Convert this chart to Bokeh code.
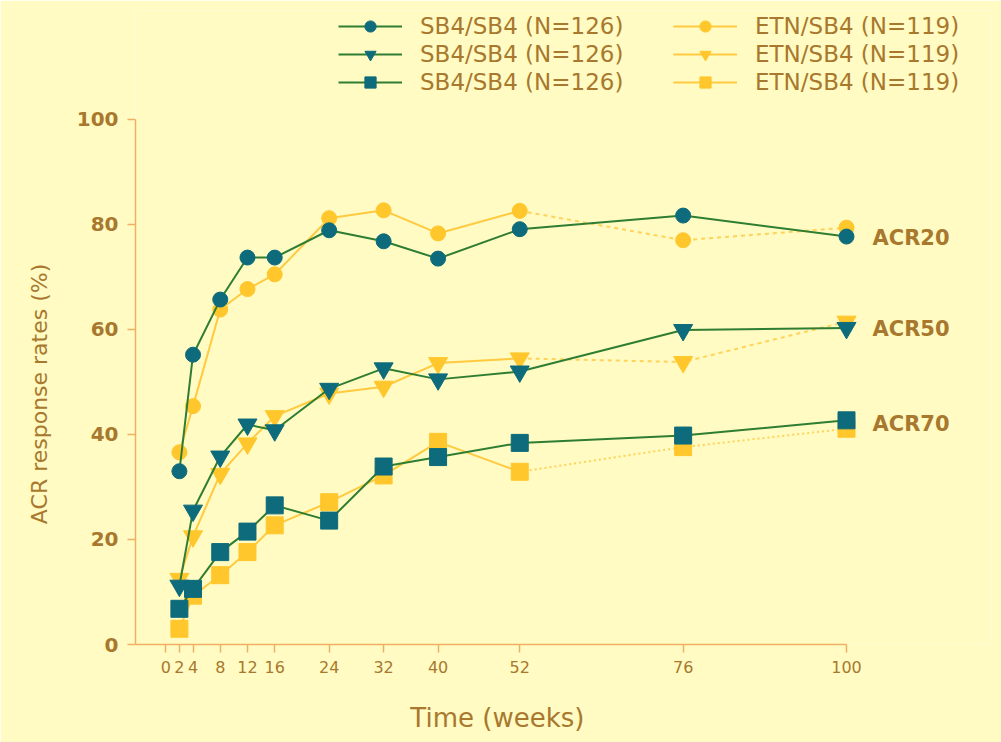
from bokeh.plotting import figure
from bokeh.models import FixedTicker, Legend, LegendItem, Range1d
from bokeh.embed import file_html
from bokeh.resources import INLINE

# ---------------- data ----------------
weeks = [2, 4, 8, 12, 16, 24, 32, 40, 52, 76, 100]
sb4_acr20 = [33.0, 55.2, 65.7, 73.7, 73.7, 78.9, 76.8, 73.5, 79.1, 81.7, 77.7]
etn_acr20 = [36.6, 45.4, 63.8, 67.7, 70.5, 81.2, 82.7, 78.3, 82.6, 77.0, 79.4]
sb4_acr50 = [11.2, 25.5, 35.8, 41.9, 40.8, 48.7, 52.6, 50.5, 52.0, 59.9, 60.3]
etn_acr50 = [12.5, 20.6, 32.5, 38.3, 43.5, 47.8, 49.1, 53.6, 54.5, 53.8, 61.5]
sb4_acr70 = [6.8, 10.6, 17.6, 21.5, 26.5, 23.6, 33.9, 35.7, 38.4, 39.8, 42.7]
etn_acr70 = [3.0, 9.3, 13.2, 17.6, 22.7, 27.1, 32.2, 38.6, 32.9, 37.6, 41.1]
x_ticks = [0, 2, 4, 8, 12, 16, 24, 32, 40, 52, 76, 100]
y_ticks = [0, 20, 40, 60, 80, 100]
sb4_label = "SB4/SB4 (N=126)"
etn_label = "ETN/SB4 (N=119)"
acr_labels = ["ACR20", "ACR50", "ACR70"]
acr_label_y = [77.5, 60.0, 42.0]
split_week = 52

# ---------------- style ----------------
BG = "#FFFBC2"
BROWN = "#A8782E"
AXIS = "#EDB064"
TEAL = "#0D6B7B"
GREEN = "#2E7D32"
YEL = "#FFC72C"
YEL_LINE = "#FFC940"
FONT = "DejaVu Sans"
NBSP = "\u00a0"

# frame spans the legend area too (annotations are clipped to the frame);
# axes are limited to their data extent with bounds
x_start, x_end = -4.45, 121.3
y_start, y_end = 0, 120.76
p = figure(width=1001, height=742, output_backend="svg", toolbar_location=None,
           x_range=Range1d(x_start, x_end), y_range=Range1d(y_start, y_end),
           min_border_left=135, min_border_right=10, min_border_top=10,
           min_border_bottom=98)
p.background_fill_color = BG
p.border_fill_color = BG
p.outline_line_color = None
p.grid.visible = False

for ax in (p.xaxis[0], p.yaxis[0]):
    ax.axis_line_color = AXIS
    ax.axis_line_width = 1.5
    ax.major_tick_line_color = AXIS
    ax.major_tick_line_width = 1.5
    ax.major_tick_out = 8
    ax.major_tick_in = 0
    ax.minor_tick_line_color = None
    ax.major_label_text_color = BROWN
    ax.major_label_text_font = FONT
    ax.axis_label_text_color = BROWN
    ax.axis_label_text_font = FONT

p.xaxis.ticker = FixedTicker(ticks=x_ticks)
p.xaxis.bounds = (x_start, 100)
p.xaxis.major_label_text_font_size = "16px"
p.xaxis.major_label_standoff = 8
# trailing no-break spaces shift the centred title over the 0-100 axis
p.xaxis.axis_label = "Time (weeks)" + NBSP * 16
p.xaxis.axis_label_text_font_size = "26px"
p.xaxis.axis_label_text_font_style = "normal"
p.xaxis.axis_label_standoff = 27

p.yaxis.ticker = FixedTicker(ticks=y_ticks)
p.yaxis.bounds = (0, 100)
p.yaxis.major_label_text_font_size = "20px"
p.yaxis.major_label_text_font_style = "bold"
p.yaxis.major_label_standoff = 9
p.yaxis.axis_label = "ACR response rates (%)" + NBSP * 19
p.yaxis.axis_label_text_font_size = "22px"
p.yaxis.axis_label_text_font_style = "normal"
p.yaxis.axis_label_standoff = 22

k = weeks.index(split_week)
series = [
    (sb4_acr20, etn_acr20, "circle", 15, "4 4"),
    (sb4_acr50, etn_acr50, "inverted_triangle", 19, "4 4"),
    (sb4_acr70, etn_acr70, "square", 17, "2 3"),
]

# yellow (ETN) first, then teal (SB4) on top
etn_rends = []
for sb4, etn, mk, sz, dash in series:
    solid = p.line(weeks[:k + 1], etn[:k + 1], line_color=YEL_LINE, line_width=2)
    p.line(weeks[k:], etn[k:], line_color=YEL_LINE, line_width=2, line_dash=dash,
           line_alpha=0.8)
    sc = p.scatter(weeks, etn, marker=mk, size=sz, fill_color=YEL, line_color=YEL)
    etn_rends.append((solid, sc))
sb4_rends = []
for sb4, etn, mk, sz, dash in series:
    ln = p.line(weeks, sb4, line_color=GREEN, line_width=2)
    sc = p.scatter(weeks, sb4, marker=mk, size=sz, fill_color=TEAL, line_color=TEAL)
    sb4_rends.append((ln, sc))

def make_legend(items, loc):
    return Legend(items=items, location=loc, orientation="vertical",
                  glyph_width=64, glyph_height=28, label_height=28,
                  label_standoff=18, spacing=0, padding=0, margin=0,
                  border_line_alpha=0, background_fill_alpha=0,
                  label_text_font=FONT, label_text_font_size="23px",
                  label_text_color=BROWN)

p.add_layout(make_legend([LegendItem(label=sb4_label, renderers=[l, s])
                          for l, s in sb4_rends], (203, 548)), "center")
p.add_layout(make_legend([LegendItem(label=etn_label, renderers=[l, s])
                          for l, s in etn_rends], (538, 548)), "center")

# ACR labels at the right end of the curves
p.text(x=[weeks[-1]] * 3, y=acr_label_y, text=acr_labels, x_offset=26,
       text_baseline="middle", text_align="left", text_color=BROWN,
       text_font={"value": FONT}, text_font_size="21px", text_font_style="bold")

open("out.html", "w").write(file_html(p, INLINE))
